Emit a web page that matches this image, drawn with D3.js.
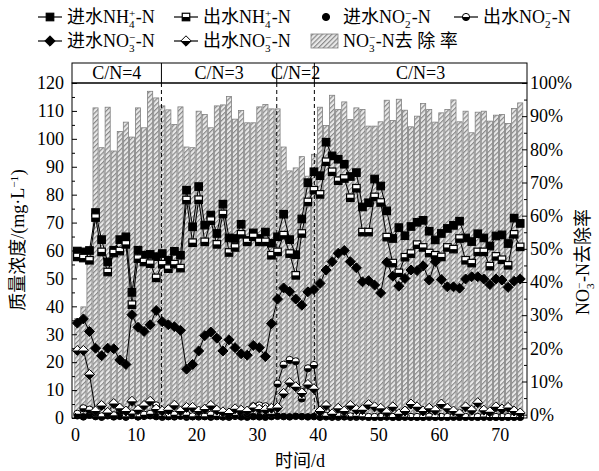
<!DOCTYPE html>
<html>
<head>
<meta charset="utf-8">
<script src="https://cdn.jsdelivr.net/npm/d3@7"></script>
<style>
  body { margin: 0; background: #fff; }
  svg { display: block; }
</style>
</head>
<body>
<svg id="chart" width="599" height="471"></svg>
<script>
// ---- data: one sample per operating day ----
const days = d3.range(74);

// influent / effluent NH4+-N (mg/L)
const nh4In = [59.8, 59.5, 60, 73.6, 63.9, 55.9, 60.1, 63.9, 64.9, 45,
  60.1, 58.3, 58.6, 57.8, 58.9, 56.5, 59.7, 58.3, 81.6, 68.5,
  82.9, 69.1, 72.7, 66.1, 76.6, 64.5, 64.3, 69.4, 63.6, 66.3,
  64.3, 66.6, 62.6, 64.9, 73, 63.9, 58.5, 71.3, 84.3, 88.2,
  86.8, 98.8, 93.9, 92.7, 90.9, 86.5, 87.9, 75.6, 77.1, 85.6,
  83.1, 74.2, 64.3, 68.2, 65.3, 68.6, 70.1, 70.8, 66.9, 63.8,
  66.1, 67.9, 69, 70.5, 64.5, 63.2, 66, 64.5, 61.6, 65.2,
  65.6, 62.5, 71.6, 69.7];
const nh4Out = [57.7, 57.3, 56.5, 71.8, 59.5, 52.3, 59.1, 59.8, 62.2, 40.6,
  57.1, 55.9, 55.3, 50.2, 55.1, 53.5, 55.1, 53.7, 78.1, 62.8,
  78.2, 63.1, 70.7, 62.2, 73.1, 59.3, 61.1, 65.8, 63.1, 64.9,
  63.1, 63.1, 58.3, 59.5, 65.5, 58.9, 51.1, 66.1, 77.4, 81.6,
  80.1, 91.8, 88.2, 85, 85.8, 78.9, 82.3, 66.6, 66.6, 79.2,
  77.2, 64.8, 55.5, 52, 57.6, 58.9, 62.1, 61.1, 59.1, 58.3,
  57.7, 61.1, 60.5, 64.3, 56.5, 55.5, 59.5, 59.5, 54.4, 57.9,
  56.7, 54.7, 65.8, 61.3];

// influent / effluent NO2--N (mg/L)
const no2In = [0.8, 0.4, 1, 0.5, 0.3, 0.8, 0.4, 0.6, 0.3, 0.9,
  0.4, 0.6, 0.8, 0.5, 0.3, 0.6, 0.4, 0.7, 0.3, 0.5,
  0.4, 0.6, 0.3, 0.5, 0.4, 0.3, 0.6, 0.4, 0.3, 0.5,
  0.4, 0.3, 0.5, 0.6, 0.5, 0.4, 0.6, 0.5, 0.4, 0.5,
  0.3, 0.4, 0.3, 0.3, 0.4, 0.3, 0.3, 0.4, 0.3, 0.3,
  0.3, 0.4, 0.3, 0.3, 0.3, 0.4, 0.3, 0.3, 0.3, 0.3,
  0.4, 0.3, 0.3, 0.3, 0.3, 0.4, 0.3, 0.3, 0.3, 0.3,
  0.3, 0.3, 0.3, 0.3];
const no2Out = [1.5, 3.5, 3, 1.8, 0.6, 1.5, 1, 2.4, 0.6, 1.6,
  0.6, 1.2, 1.5, 4.5, 0.8, 0.6, 1.2, 0.8, 1.2, 0.6,
  0.8, 0.6, 1.2, 0.8, 0.6, 0.8, 1.2, 2, 1.5, 4.2,
  4.5, 4.2, 1.5, 12.3, 19.1, 20.8, 20.3, 7, 17.8, 19,
  1, 0.8, 0.6, 0.8, 1, 0.6, 0.8, 0.6, 0.4, 0.4,
  0.4, 0.5, 0.4, 0.4, 0.5, 0.4, 0.4, 0.4, 0.5, 0.4,
  0.4, 0.4, 0.5, 0.4, 0.4, 0.4, 0.4, 0.5, 0.4, 0.4,
  0.4, 0.4, 0.4, 0.4];

// influent / effluent NO3--N (mg/L)
const no3In = [34, 35.5, 31, 25, 22.3, 25, 24.8, 20.8, 19.2, 37,
  32.5, 31, 33.4, 38.5, 34.5, 33.4, 32.7, 31.4, 17.5, 19.2,
  24, 29.5, 30.8, 28.6, 24, 28, 25.2, 23, 22.5, 26,
  25.2, 22, 33.8, 42.6, 46.6, 45.3, 42.6, 40.4, 45.2, 46,
  48.2, 53, 56, 59, 60, 56, 53.8, 48.8, 49.2, 47.6,
  44.8, 55.8, 50.8, 47.2, 50, 53, 52.8, 54.5, 49.4, 56,
  49.6, 47, 47, 46.5, 49.8, 50.6, 50.6, 49.8, 47.8, 49.8,
  49.4, 46.8, 49, 49.8];
const no3Out = [24.2, 24.2, 15.6, 2.5, 4.5, 2, 5.2, 3.5, 2.5, 6,
  3, 4.5, 6, 3.2, 2.5, 3, 4.6, 2.5, 3.8, 3.8,
  2.5, 3.2, 4.5, 2.8, 2.2, 1.8, 3.3, 2.8, 2.5, 3.8,
  3.2, 3, 3.5, 3.8, 8.8, 12.7, 11.2, 9, 12, 10.5,
  2.5, 4.5, 1.5, 3.5, 2.5, 4.5, 3, 3, 4.8, 4,
  3.5, 2, 4, 1.5, 2.5, 5, 4, 2.5, 3.5, 2.8,
  5, 3.5, 2.5, 1.5, 4, 2.8, 5.5, 2.8, 2.2, 4,
  3.2, 3.8, 2.5, 1.8];

// NO3--N removal rate (%)
const removalRate = [29, 32.5, 50, 92.5, 80.5, 92.7, 79.5, 85.4, 88.2, 83.7,
  92.5, 86.5, 97.5, 95.5, 93.1, 91.9, 87.5, 92.8, 80.7, 80.5,
  91.5, 90.5, 86.5, 93.1, 93.4, 95.9, 89.1, 91.7, 88, 88,
  92.8, 93.5, 92.2, 92.2, 80.7, 73.5, 74.4, 77.8, 71.9, 78.5,
  92.7, 87.2, 96.3, 92, 94.3, 89, 92.5, 92, 87, 87,
  88.3, 94.8, 88.7, 95.1, 91.8, 86.8, 90, 93.8, 92, 88.2,
  91, 92, 94.9, 88.3, 91.5, 85, 91.2, 91.5, 88.5, 90.3,
  90.5, 87.8, 92.3, 94];

// operating phases (C/N ratio) and the days where they change
const phaseLabels = ["C/N=4", "C/N=3", "C/N=2", "C/N=3"];
const phaseBreaks = [14.24, 33.25, 39.45];

// axis ticks
const xTicks = [0, 10, 20, 30, 40, 50, 60, 70];
const yTicks = [0, 10, 20, 30, 40, 50, 60, 70, 80, 90, 100, 110, 120];
const yRTicks = [0, 10, 20, 30, 40, 50, 60, 70, 80, 90, 100];

// ---- layout ----
const FONT = "'Liberation Serif','Times New Roman','Noto Sans CJK SC',serif";
const L = 72, R = 527, T = 83, B = 418, HEAD = 63;
const FS = 18;
const sampleOffset = 0.38;   // samples sit inside each day interval

const svg = d3.select("#chart")
  .attr("font-family", FONT)
  .style("background", "#fff");

const x = d3.scaleLinear().domain([-0.5, 74.5]).range([L, R]);
const y = d3.scaleLinear().domain([0, 120]).range([B, T]);
const yR = d3.scaleLinear().domain([-1, 100]).range([B, T]);
const xs = i => x(days[i] + sampleOffset);

// hatch pattern for the removal-rate bars
const defs = svg.append("defs");
const pat = defs.append("pattern")
  .attr("id", "hatch")
  .attr("patternUnits", "userSpaceOnUse")
  .attr("width", 3.4).attr("height", 3.4)
  .attr("patternTransform", "rotate(45)");
pat.append("rect").attr("width", 3.4).attr("height", 3.4).attr("fill", "#e8e8e8");
pat.append("line").attr("x1", 0.6).attr("y1", 0).attr("x2", 0.6).attr("y2", 3.4)
  .attr("stroke", "#858585").attr("stroke-width", 1.15);

defs.append("clipPath").attr("id", "plotClip")
  .append("rect").attr("x", L).attr("y", T).attr("width", R - L).attr("height", B - T);

// ---- bars ----
const barW = (x(1) - x(0)) * 0.84;
svg.append("g").attr("clip-path", "url(#plotClip)")
  .selectAll("rect").data(removalRate).join("rect")
  .attr("x", (d, i) => xs(i) - barW / 2)
  .attr("y", d => yR(d))
  .attr("width", barW)
  .attr("height", d => yR(0) - yR(d))
  .attr("fill", "url(#hatch)")
  .attr("stroke", "#808080")
  .attr("stroke-width", 0.8);

// ---- phase separators ----
svg.append("g").selectAll("line").data(phaseBreaks).join("line")
  .attr("x1", d => x(d)).attr("x2", d => x(d))
  .attr("y1", T).attr("y2", B)
  .attr("stroke", "#000").attr("stroke-width", 1)
  .attr("stroke-dasharray", "4,3");

// ---- marker helpers ----
function square(g, cx, cy, s, half) {
  g.append("rect").attr("x", cx - s / 2).attr("y", cy - s / 2).attr("width", s).attr("height", s)
    .attr("fill", half ? "#fff" : "#000").attr("stroke", "#000").attr("stroke-width", 1.2);
  if (half) g.append("rect").attr("x", cx - s / 2).attr("y", cy).attr("width", s).attr("height", s / 2)
    .attr("fill", "#000");
}
function circle(g, cx, cy, r, half) {
  g.append("circle").attr("cx", cx).attr("cy", cy).attr("r", r)
    .attr("fill", half ? "#fff" : "#000").attr("stroke", "#000").attr("stroke-width", 1);
  if (half) g.append("path")
    .attr("d", `M${cx - r},${cy} A${r},${r} 0 0 0 ${cx + r},${cy} Z`).attr("fill", "#000");
}
function diamond(g, cx, cy, h, half) {
  g.append("path").attr("d", `M${cx},${cy - h} L${cx + h},${cy} L${cx},${cy + h} L${cx - h},${cy} Z`)
    .attr("fill", half ? "#fff" : "#000").attr("stroke", "#000").attr("stroke-width", 1);
  if (half) g.append("path").attr("d", `M${cx - h},${cy} L${cx + h},${cy} L${cx},${cy + h} Z`).attr("fill", "#000");
}

const series = [
  { vals: nh4In,  draw: (g, a, b) => square(g, a, b, 7.5, false),  line: true },
  { vals: nh4Out, draw: (g, a, b) => square(g, a, b, 7.5, true),   line: true },
  { vals: no2In,  draw: (g, a, b) => circle(g, a, b, 3.3, false), line: false },
  { vals: no2Out, draw: (g, a, b) => circle(g, a, b, 3.6, true), line: true },
  { vals: no3In,  draw: (g, a, b) => diamond(g, a, b, 5, false), line: true },
  { vals: no3Out, draw: (g, a, b) => diamond(g, a, b, 5, true), line: true }
];

const lineGen = d3.line().x((d, i) => xs(i)).y(d => y(d));
series.forEach(s => {
  const g = svg.append("g");
  if (s.line) g.append("path").attr("d", lineGen(s.vals))
    .attr("fill", "none").attr("stroke", "#000").attr("stroke-width", 1);
  s.vals.forEach((v, i) => s.draw(g, xs(i), y(v)));
});

// ---- axes (ticks pointing inward) ----
const axisStyle = g => {
  g.select(".domain").remove();
  g.selectAll("line").attr("stroke", "#000");
  g.selectAll("text").attr("font-size", FS).attr("fill", "#000").attr("font-family", FONT);
};
const minor = (arr) => arr.slice(0, -1).map((d, i) => (d + arr[i + 1]) / 2);

svg.append("g").attr("transform", `translate(${L},0)`)
  .call(d3.axisLeft(y).tickValues(yTicks).tickSize(-5).tickPadding(8)).call(axisStyle);
svg.append("g").attr("transform", `translate(${L},0)`)
  .call(d3.axisLeft(y).tickValues(minor(yTicks)).tickSize(-3).tickFormat("")).call(axisStyle);

svg.append("g").attr("transform", `translate(${R},0)`)
  .call(d3.axisRight(yR).tickValues(yRTicks).tickSize(-5).tickPadding(3).tickFormat(d => d + "%")).call(axisStyle);
svg.append("g").attr("transform", `translate(${R},0)`)
  .call(d3.axisRight(yR).tickValues(minor(yRTicks)).tickSize(-3).tickFormat("")).call(axisStyle);

svg.append("g").attr("transform", `translate(0,${B})`)
  .call(d3.axisBottom(x).tickValues(xTicks).tickSize(-5).tickPadding(10)).call(axisStyle);
svg.append("g").attr("transform", `translate(0,${B})`)
  .call(d3.axisBottom(x).tickValues(minor(xTicks)).tickSize(-3).tickFormat("")).call(axisStyle);

// frames
svg.append("rect").attr("x", L).attr("y", T).attr("width", R - L).attr("height", B - T)
  .attr("fill", "none").attr("stroke", "#000").attr("stroke-width", 1);
svg.append("rect").attr("x", L).attr("y", HEAD).attr("width", R - L).attr("height", T - HEAD)
  .attr("fill", "none").attr("stroke", "#000").attr("stroke-width", 1);
svg.append("g").selectAll("line").data(phaseBreaks).join("line")
  .attr("x1", d => x(d)).attr("x2", d => x(d)).attr("y1", HEAD).attr("y2", T)
  .attr("stroke", "#000").attr("stroke-width", 1);

// phase labels
const phaseEdges = [-0.5, ...phaseBreaks, 74.5];
svg.append("g").selectAll("text").data(phaseLabels).join("text")
  .attr("x", (d, i) => x((phaseEdges[i] + phaseEdges[i + 1]) / 2))
  .attr("y", (HEAD + T) / 2)
  .attr("dy", "0.35em")
  .attr("text-anchor", "middle")
  .attr("font-size", FS)
  .text(d => d);

// ---- rich text (stacked sub/superscripts) ----
function rich(parent, parts, { x0 = 0, y0 = 0, size = FS, anchor = "start", rotate = 0 } = {}) {
  const g = parent.append("g").attr("transform", `translate(${x0},${y0}) rotate(${rotate})`);
  const inner = g.append("g");
  let cx = 0;
  parts.forEach(p => {
    if (typeof p === "string") {
      const t = inner.append("text").attr("x", cx).attr("font-size", size).text(p);
      cx += t.node().getComputedTextLength();
    } else {
      const ss = size * 0.62;
      let w = 0;
      if (p.sub) {
        const t = inner.append("text").attr("x", cx).attr("y", size * 0.3).attr("font-size", ss).text(p.sub);
        w = Math.max(w, t.node().getComputedTextLength());
      }
      if (p.sup) {
        const t = inner.append("text").attr("x", cx).attr("y", -size * 0.36).attr("font-size", ss).text(p.sup);
        w = Math.max(w, t.node().getComputedTextLength());
      }
      cx += w + 0.5;
    }
  });
  const off = anchor === "middle" ? -cx / 2 : anchor === "end" ? -cx : 0;
  inner.attr("transform", `translate(${off},0)`);
  return cx;
}

// axis titles
rich(svg, ["质量浓度/(mg·L", { sup: "−1" }, ")"], { x0: 24, y0: 240, anchor: "middle", rotate: -90 });
rich(svg, ["NO", { sub: "3", sup: "−" }, "-N去除率"], { x0: 589, y0: 262, anchor: "middle", rotate: -90 });
rich(svg, ["时间/d"], { x0: 300, y0: 467, anchor: "middle" });

// ---- legend ----
const legend = svg.append("g");
const legendItems = [
  { x: 50,  y: 17, label: ["进水NH", { sub: "4", sup: "+" }, "-N"], draw: (g, a, b) => square(g, a, b, 7.5, false), line: true },
  { x: 186, y: 17, label: ["出水NH", { sub: "4", sup: "+" }, "-N"], draw: (g, a, b) => square(g, a, b, 7.5, true), line: true },
  { x: 326, y: 17, label: ["进水NO", { sub: "2", sup: "−" }, "-N"], draw: (g, a, b) => circle(g, a, b, 3.6, false), line: false },
  { x: 466, y: 17, label: ["出水NO", { sub: "2", sup: "−" }, "-N"], draw: (g, a, b) => circle(g, a, b, 3.6, true), line: true },
  { x: 50,  y: 41, label: ["进水NO", { sub: "3", sup: "−" }, "-N"], draw: (g, a, b) => diamond(g, a, b, 5.2, false), line: true },
  { x: 186, y: 41, label: ["出水NO", { sub: "3", sup: "−" }, "-N"], draw: (g, a, b) => diamond(g, a, b, 5.2, true), line: true }
];
legendItems.forEach(it => {
  const g = legend.append("g");
  if (it.line) g.append("line").attr("x1", it.x - 12).attr("x2", it.x + 12)
    .attr("y1", it.y).attr("y2", it.y).attr("stroke", "#000").attr("stroke-width", 1.2);
  it.draw(g, it.x, it.y);
  rich(g, it.label, { x0: it.x + 17, y0: it.y + 6 });
});
legend.append("rect").attr("x", 311).attr("y", 34).attr("width", 27).attr("height", 14)
  .attr("fill", "url(#hatch)").attr("stroke", "#808080").attr("stroke-width", 0.8);
rich(legend, ["NO", { sub: "3", sup: "−" }, "-N去 除 率"], { x0: 343, y0: 47 });
</script>
</body>
</html>
